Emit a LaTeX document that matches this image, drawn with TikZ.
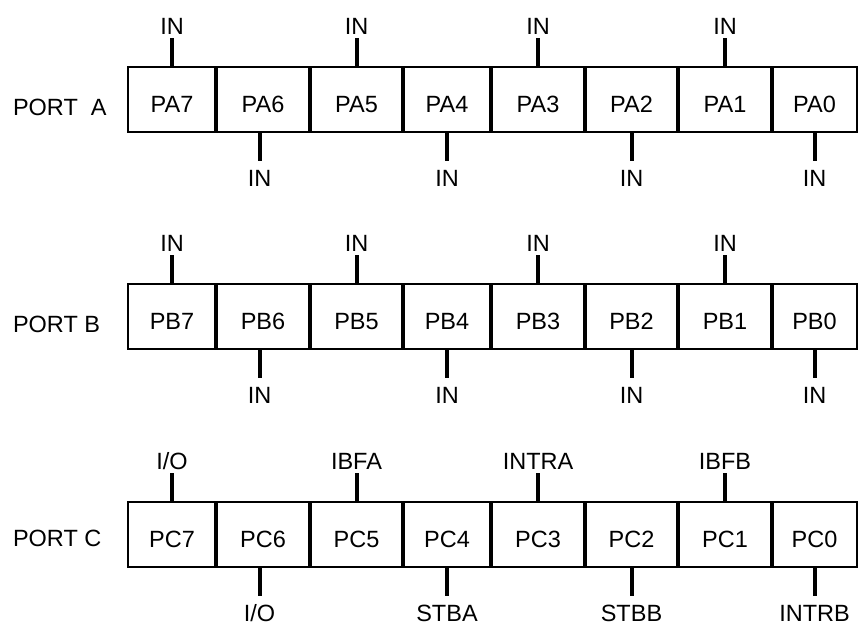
\documentclass[tikz,border=0pt]{standalone}
\usepackage{fontspec}
\setmainfont{Liberation Sans}
\newcommand\toplbl[4]{% cell, name, text, dx
  \node[toplab] (#2) at ([yshift=29pt,xshift=#4]#1.north) {#3};
  \draw[stub] ([xshift=#4]#1.north) -- (#2.south);}
\newcommand\botlbl[4]{% cell, name, text, dx
  \node[botlab] (#2) at ([yshift=-29pt,xshift=#4]#1.south) {#3};
  \draw[stub] ([xshift=#4]#1.south) -- (#2.north);}
\begin{document}
\begin{tikzpicture}[x=1pt,y=-1pt,
  every node/.style={font=\fontsize{23.5pt}{28pt}\selectfont, inner sep=0pt, outer sep=0pt, text=black},
  cell/.style={draw, line width=2.2pt, text height=25pt, text depth=0pt, minimum height=65pt},
  divider/.style={line width=3.2pt},
  stub/.style={line width=4pt},
  toplab/.style={anchor=south, text height=17pt, text depth=0pt, outer ysep=4pt},
  botlab/.style={anchor=north, text height=17pt, text depth=0pt, outer ysep=8pt},
  portlab/.style={anchor=base west}]
\useasboundingbox (0,0) rectangle (859,625);
% cells
\foreach \row/\tp in {A/67, B/284, C/502} {
  \foreach \l/\r/\n in {128/216/7, 216/310/6, 310/403/5, 403/491/4, 491/585/3, 585/678/2, 678/772/1, 772/857/0} {
    \pgfmathsetmacro\w{\r-\l}
    \pgfmathsetmacro\cx{(\l+\r)/2}
    \pgfmathsetmacro\cy{\tp+32.5}
    \node[cell, minimum width=\w pt] (P\row\n) at (\cx,\cy) {P\row\n};
  }
}
% dividers
\foreach \row in {A,B,C} {
  \foreach \n in {7,6,5,4,3,2,1} {
    \draw[divider] (P\row\n.north east) -- (P\row\n.south east);
  }
}
% port labels
\node[portlab] (portA) at (13,115) {PORT\ \ A};
\node[portlab] (portB) at (13,332) {PORT B};
\node[portlab] (portC) at (13,546) {PORT C};
% port A
\toplbl{PA7}{tA7}{IN}{0pt}
\toplbl{PA5}{tA5}{IN}{0pt}
\toplbl{PA3}{tA3}{IN}{0pt}
\toplbl{PA1}{tA1}{IN}{0pt}
\botlbl{PA6}{bA6}{IN}{-3.5pt}
\botlbl{PA4}{bA4}{IN}{0pt}
\botlbl{PA2}{bA2}{IN}{0pt}
\botlbl{PA0}{bA0}{IN}{0pt}
% port B
\toplbl{PB7}{tB7}{IN}{0pt}
\toplbl{PB5}{tB5}{IN}{0pt}
\toplbl{PB3}{tB3}{IN}{0pt}
\toplbl{PB1}{tB1}{IN}{0pt}
\botlbl{PB6}{bB6}{IN}{-3.5pt}
\botlbl{PB4}{bB4}{IN}{0pt}
\botlbl{PB2}{bB2}{IN}{0pt}
\botlbl{PB0}{bB0}{IN}{0pt}
% port C
\toplbl{PC7}{tC7}{I/O}{0pt}
\toplbl{PC5}{tC5}{IBFA}{0pt}
\toplbl{PC3}{tC3}{INTRA}{0pt}
\toplbl{PC1}{tC1}{IBFB}{0pt}
\botlbl{PC6}{bC6}{I/O}{-3.5pt}
\botlbl{PC4}{bC4}{STBA}{0pt}
\botlbl{PC2}{bC2}{STBB}{0pt}
\botlbl{PC0}{bC0}{INTRB}{0pt}
\end{tikzpicture}
\end{document}
